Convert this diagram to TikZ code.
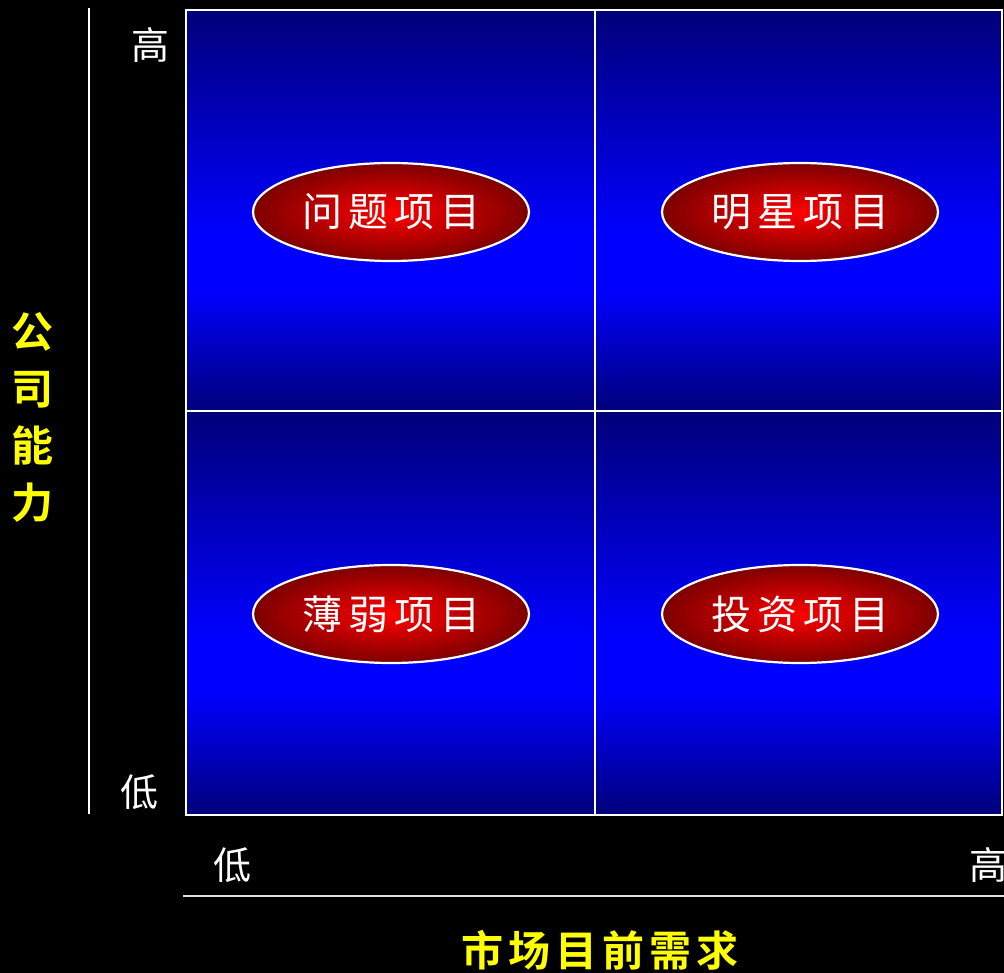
\documentclass[tikz,border=0pt]{standalone}
\usepackage{fontspec}
\newfontfamily\cjk{Noto Sans CJK SC}
\newfontfamily\cjkb{Noto Sans CJK SC Bold}
\usetikzlibrary{shapes.geometric}
\definecolor{qdark}{RGB}{0,0,122}
\definecolor{qbright}{RGB}{0,0,255}
\definecolor{rbright}{RGB}{255,0,0}
\definecolor{rdark}{RGB}{125,0,0}
\definecolor{ylab}{RGB}{255,255,0}
\pgfdeclareverticalshading{quadshade}{100bp}{color(0bp)=(qdark); color(25bp)=(qdark); color(40bp)=(qbright); color(47bp)=(qbright); color(75bp)=(qdark); color(100bp)=(qdark)}
\tikzset{
  quad/.style={shading=quadshade, draw=white, line width=2.8pt},
  proj/.style={ellipse, draw=white, line width=2.2pt, inner color=rbright, outer color=rdark,
     minimum width=276pt, minimum height=98pt, inner sep=0pt, text=white, font=\cjk\fontsize{40}{42}\selectfont},
  axlab/.style={text=white, font=\cjk\fontsize{38}{40}\selectfont, inner sep=0pt},
  ylabel/.style={text=ylab, font=\cjkb\fontsize{42}{57}\selectfont, inner sep=0pt, align=center},
  axline/.style={draw=white, line width=2.2pt}
}
\begin{document}
\begin{tikzpicture}[x=1pt,y=-1pt]
\useasboundingbox (0,0) rectangle (1004,973);
\fill[black] (0,0) rectangle (1004,973);
% quadrants
\path[quad] (186,10) rectangle (595,411);
\path[quad] (595,10) rectangle (1002,411);
\path[quad] (186,411) rectangle (595,815);
\path[quad] (595,411) rectangle (1002,815);
% axes
\coordinate (ya) at (89,8);
\coordinate (yb) at (89,814);
\draw[axline] (ya) -- (yb);
\coordinate (xa) at (183,896);
\coordinate (xb) at (1004,896);
\draw[axline, draw=white!88!black] (xa) -- (xb);
% ellipses
\node[proj] (q1) at (391,212) {问\kern6pt 题\kern6pt 项\kern6pt 目};
\node[proj] (q2) at (800,212) {明\kern6pt 星\kern6pt 项\kern6pt 目};
\node[proj] (q3) at (391,614) {薄\kern6pt 弱\kern6pt 项\kern6pt 目};
\node[proj] (q4) at (800,614) {投\kern6pt 资\kern6pt 项\kern6pt 目};
% axis labels
\node[axlab] (yhi) at (150,45) {高};
\node[axlab] (ylo) at (139,792) {低};
\node[axlab] (xlo) at (232,865) {低};
\node[axlab] (xhi) at (988,865) {高};
\node[ylabel] (yt) at (33,417) {公\\司\\能\\力};
\node[ylabel] (xt) at (600,950) {市\kern5pt 场\kern5pt 目\kern5pt 前\kern5pt 需\kern5pt 求};
\end{tikzpicture}
\end{document}
